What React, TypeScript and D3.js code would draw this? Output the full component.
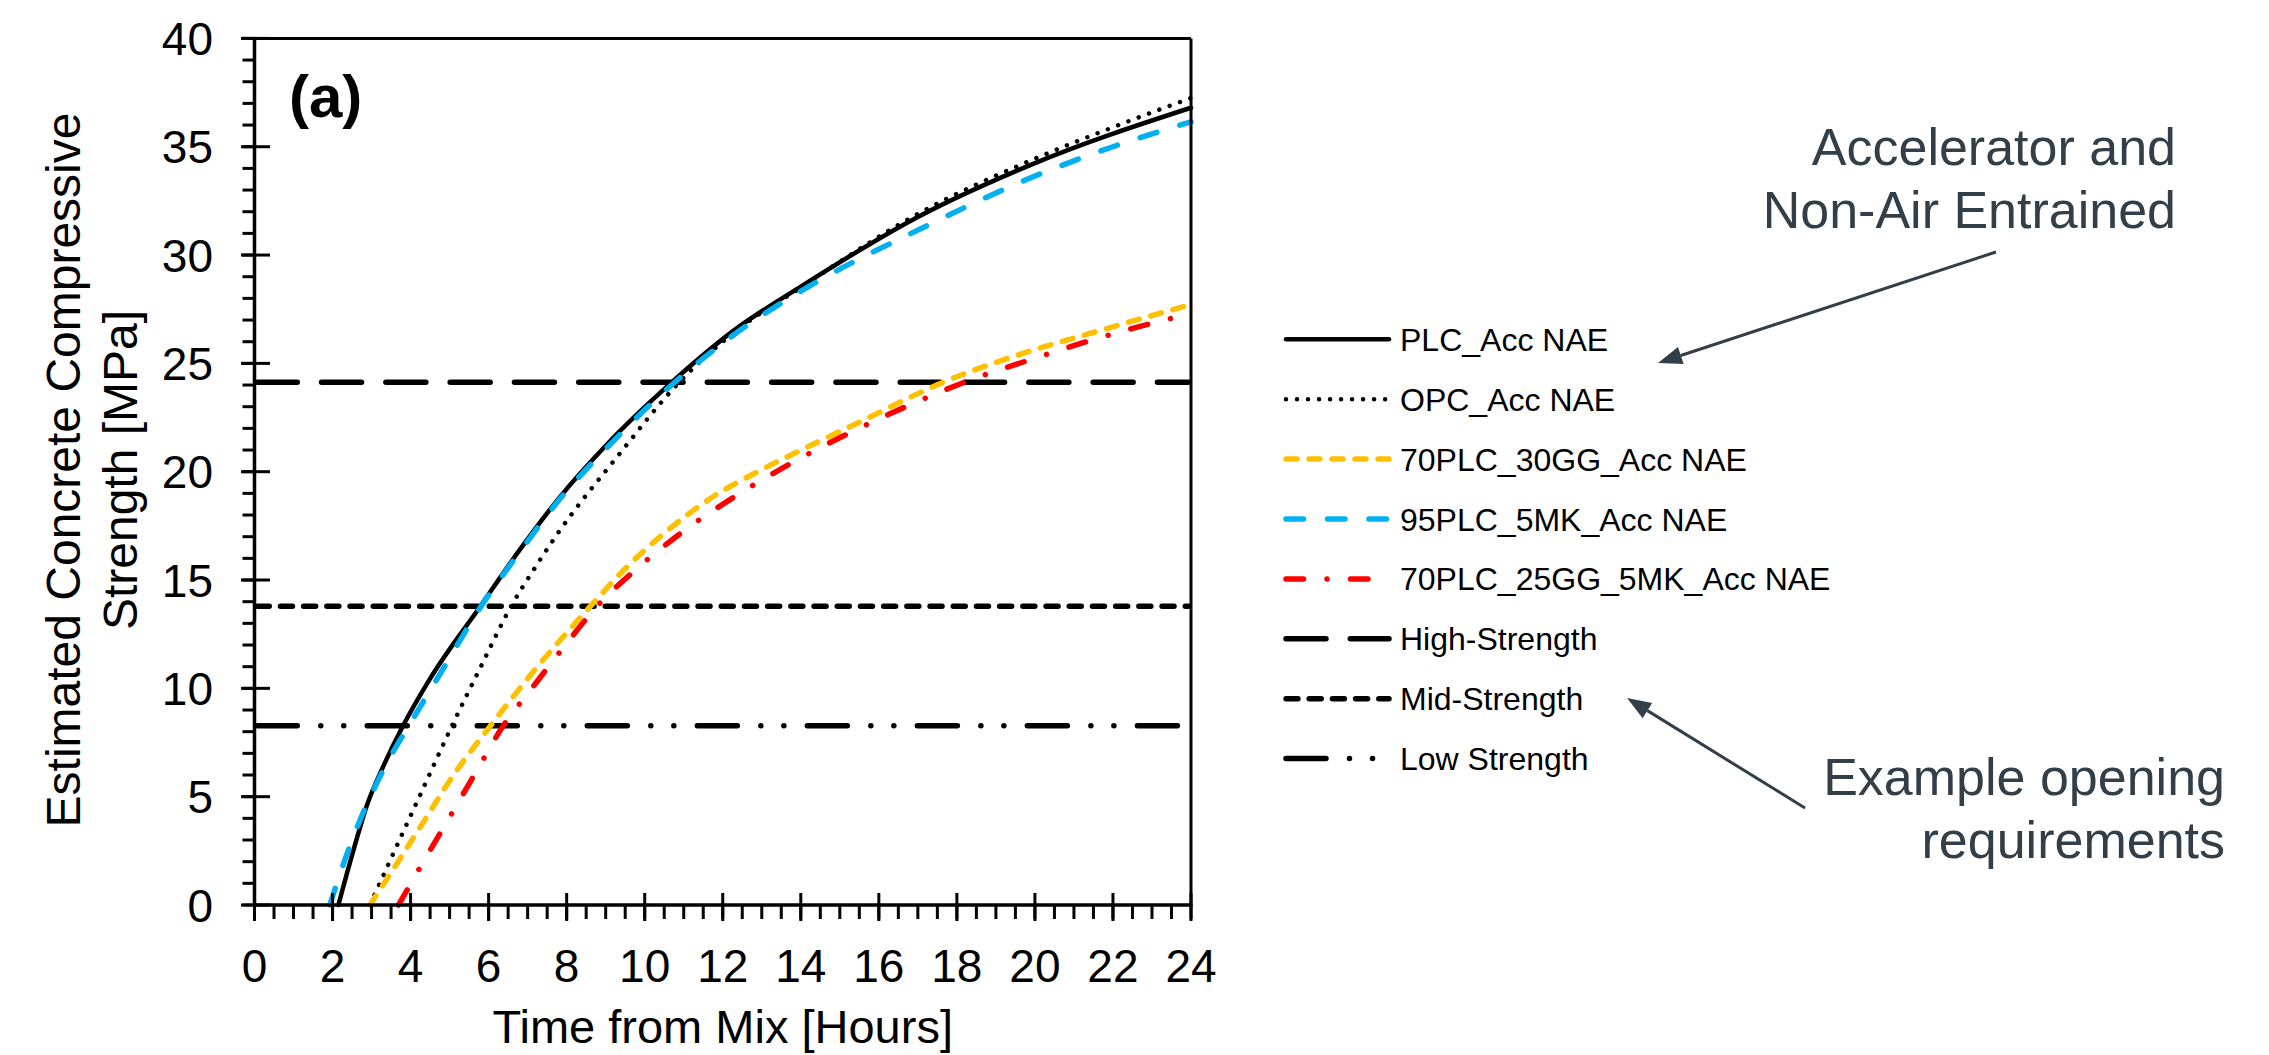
import React from 'react';
import * as d3 from 'd3';

// ---- data: [hours from mix, estimated strength MPa] ----
const plcAcc: [number, number][] = [
  [2.15, 0], [2.5, 2.3], [2.9, 4.7], [3.3, 6.4], [3.8, 8.25], [4.5, 10.45], [5.78, 13.77],
  [6.8, 16.4], [7.83, 18.84], [9.0, 21.2], [10.69, 24.12], [12.27, 26.5], [14.05, 28.6],
  [17.0, 31.76], [19.94, 34.2], [24, 36.8],
];
const opcAcc: [number, number][] = [
  [2.96, 0], [3.5, 2.15], [4.2, 4.9], [5.05, 8.23], [5.8, 11.0], [6.57, 13.77], [7.2, 15.6],
  [7.83, 17.3], [9.3, 20.7], [10.87, 24.1], [12.27, 26.4], [14.0, 28.5], [17.0, 31.9],
  [19.94, 34.4], [22.0, 35.9], [24, 37.25],
];
const plc70gg30: [number, number][] = [
  [2.96, 0], [3.5, 1.5], [4.25, 3.6], [5.1, 6.0], [6.03, 8.23], [7.0, 10.45], [8.6, 13.77],
  [9.54, 15.6], [10.56, 17.25], [11.67, 18.75], [12.95, 20.05], [14.24, 21.2], [15.52, 22.3],
  [16.88, 23.5], [17.59, 24.08], [19.55, 25.38], [21.41, 26.38], [23.47, 27.45], [24, 27.72],
];
const plc95mk5: [number, number][] = [
  [1.93, 0], [2.3, 2.0], [2.7, 3.9], [3.1, 5.5], [3.5, 6.9], [3.94, 8.23], [4.8, 10.8],
  [5.8, 13.77], [6.8, 16.3], [7.83, 18.75], [9.0, 21.05], [10.72, 24.05], [12.27, 26.3],
  [14.35, 28.7], [17.0, 31.15], [19.94, 33.6], [22.0, 35.0], [24, 36.15],
];
const plc70gg25mk5: [number, number][] = [
  [3.69, 0], [4.2, 1.6], [4.9, 3.75], [5.6, 5.9], [6.35, 8.2], [7.15, 10.1], [7.9, 11.85],
  [8.77, 13.77], [9.88, 15.65], [10.99, 17.25], [12.44, 19.0], [13.81, 20.45], [15.26, 21.8],
  [16.88, 23.15], [18.18, 24.12], [19.85, 25.15], [21.32, 26.0], [22.89, 26.8], [24, 27.3],
];

// opening requirement thresholds, MPa
const highStrength = 24.13;
const midStrength = 13.79;
const lowStrength = 8.27;

const xTickValues = d3.range(0, 25, 2);
const yTickValues = d3.range(0, 41, 5);
const xMinorValues = d3.range(0, 24.01, 0.5);
const yMinorValues = d3.range(0, 40.01, 1);

const legendLabels = [
  'PLC_Acc NAE',
  'OPC_Acc NAE',
  '70PLC_30GG_Acc NAE',
  '95PLC_5MK_Acc NAE',
  '70PLC_25GG_5MK_Acc NAE',
  'High-Strength',
  'Mid-Strength',
  'Low Strength',
];

// ---- styles ----
type LineStyle = { color: string; width: number; dash?: string };
const styles: Record<string, LineStyle> = {
  'PLC_Acc NAE': { color: '#000000', width: 4.5 },
  'OPC_Acc NAE': { color: '#000000', width: 4.5, dash: '0.01 11' },
  '70PLC_30GG_Acc NAE': { color: '#FFC000', width: 5.5, dash: '11 12' },
  '95PLC_5MK_Acc NAE': { color: '#00B0F0', width: 5.5, dash: '17.5 24' },
  '70PLC_25GG_5MK_Acc NAE': { color: '#FF0000', width: 5.5, dash: '17.5 23.5 0.01 23.5' },
  'High-Strength': { color: '#000000', width: 5.5, dash: '40 24.3' },
  'Mid-Strength': { color: '#000000', width: 5.5, dash: '12 11.2' },
  'Low Strength': { color: '#000000', width: 5.5, dash: '40 23.5 0.01 23 0.01 23.5' },
};

const FONT = "'Liberation Sans', Arial, Helvetica, sans-serif";
const NOTE = '#333F48';

const W = 2269;
const H = 1055;
const plotLeft = 254.5;
const plotRight = 1191;
const plotTop = 38.4;
const plotBottom = 905;

function Arrow({ x1, y1, x2, y2 }: { x1: number; y1: number; x2: number; y2: number }) {
  const ang = Math.atan2(y2 - y1, x2 - x1);
  const len = 24;
  const half = 9;
  const bx = x2 - len * Math.cos(ang);
  const by = y2 - len * Math.sin(ang);
  const px = -Math.sin(ang) * half;
  const py = Math.cos(ang) * half;
  return (
    <g>
      <line x1={x1} y1={y1} x2={bx} y2={by} stroke={NOTE} strokeWidth={3} />
      <polygon points={`${x2},${y2} ${bx + px},${by + py} ${bx - px},${by - py}`} fill={NOTE} />
    </g>
  );
}

export default function App() {
  const x = d3.scaleLinear().domain([0, 24]).range([plotLeft, plotRight]);
  const y = d3.scaleLinear().domain([0, 40]).range([plotBottom, plotTop]);
  const line = d3
    .line<[number, number]>()
    .x((d) => x(d[0]))
    .y((d) => y(d[1]))
    .curve(d3.curveMonotoneX);

  const series: { label: string; data: [number, number][] }[] = [
    { label: 'PLC_Acc NAE', data: plcAcc },
    { label: 'OPC_Acc NAE', data: opcAcc },
    { label: '70PLC_30GG_Acc NAE', data: plc70gg30 },
    { label: '70PLC_25GG_5MK_Acc NAE', data: plc70gg25mk5 },
    { label: '95PLC_5MK_Acc NAE', data: plc95mk5 },
  ];
  const thresholds = [
    { label: 'High-Strength', value: highStrength },
    { label: 'Mid-Strength', value: midStrength },
    { label: 'Low Strength', value: lowStrength },
  ];

  const legendX0 = 1286;
  const legendX1 = 1389;
  const legendY0 = 339.3;
  const legendStep = 59.9;

  return (
    <svg
      width={W}
      height={H}
      viewBox={`0 0 ${W} ${H}`}
      style={{ position: 'absolute', left: 0, top: 0, background: '#ffffff' }}
      fontFamily={FONT}
    >
      <rect x={0} y={0} width={W} height={H} fill="#ffffff" />

      {/* threshold lines */}
      {thresholds.map((t) => {
        const s = styles[t.label];
        return (
          <line
            key={t.label}
            x1={x(0) + s.width / 2}
            x2={x(24) - s.width / 2}
            y1={y(t.value)}
            y2={y(t.value)}
            stroke={s.color}
            strokeWidth={s.width}
            strokeDasharray={s.dash}
            strokeLinecap="round"
          />
        );
      })}

      {/* strength development curves */}
      {series.map((sr) => {
        const s = styles[sr.label];
        return (
          <path
            key={sr.label}
            d={line(sr.data) || ''}
            fill="none"
            stroke={s.color}
            strokeWidth={s.width}
            strokeDasharray={s.dash}
            strokeLinecap="round"
            strokeLinejoin="round"
          />
        );
      })}

      {/* frame */}
      <line x1={plotLeft} x2={plotRight} y1={plotTop} y2={plotTop} stroke="#000" strokeWidth={3} />
      <line x1={plotRight} x2={plotRight} y1={plotTop} y2={plotBottom} stroke="#000" strokeWidth={3} />
      <line x1={plotLeft} x2={plotRight + 1.5} y1={plotBottom} y2={plotBottom} stroke="#000" strokeWidth={3.5} />
      <line x1={plotLeft} x2={plotLeft} y1={plotTop - 1.5} y2={plotBottom + 1.5} stroke="#000" strokeWidth={3.5} />

      {/* y axis ticks */}
      {yMinorValues.map((v) => (
        <line key={`ym${v}`} x1={plotLeft - 12} x2={plotLeft} y1={y(v)} y2={y(v)} stroke="#000" strokeWidth={3} />
      ))}
      {yTickValues.map((v) => (
        <g key={`y${v}`}>
          <line x1={plotLeft - 13.5} x2={plotLeft + 15.5} y1={y(v)} y2={y(v)} stroke="#000" strokeWidth={3} />
          <text x={213} y={y(v) + 16.5} textAnchor="end" fontSize={46} fill="#000">
            {v}
          </text>
        </g>
      ))}

      {/* x axis ticks */}
      {xMinorValues.map((v) => (
        <line key={`xm${v}`} x1={x(v)} x2={x(v)} y1={plotBottom} y2={plotBottom + 14} stroke="#000" strokeWidth={3} />
      ))}
      {xTickValues.map((v) => (
        <g key={`x${v}`}>
          <line x1={x(v)} x2={x(v)} y1={plotBottom - 12} y2={plotBottom + 16} stroke="#000" strokeWidth={3} />
          <text x={x(v)} y={981.7} textAnchor="middle" fontSize={46} fill="#000">
            {v}
          </text>
        </g>
      ))}

      {/* axis titles */}
      <text x={(plotLeft + plotRight) / 2} y={1043} textAnchor="middle" fontSize={47} fill="#000">
        Time from Mix [Hours]
      </text>
      <text transform="translate(80,470) rotate(-90)" textAnchor="middle" fontSize={48} fill="#000">
        Estimated Concrete Compressive
      </text>
      <text transform="translate(137,470) rotate(-90)" textAnchor="middle" fontSize={48} fill="#000">
        Strength [MPa]
      </text>

      {/* panel tag */}
      <text x={289} y={117} fontSize={60} fontWeight="bold" fill="#000">
        (a)
      </text>

      {/* legend */}
      {legendLabels.map((label, i) => {
        const s = styles[label];
        const ly = legendY0 + i * legendStep;
        return (
          <g key={`lg${label}`}>
            <line
              x1={legendX0}
              x2={legendX1}
              y1={ly}
              y2={ly}
              stroke={s.color}
              strokeWidth={s.width}
              strokeDasharray={s.dash}
              strokeLinecap="round"
            />
            <text x={1400} y={ly + 11.5} fontSize={32} fill="#000">
              {label}
            </text>
          </g>
        );
      })}

      {/* notes */}
      <text x={2176} y={165} textAnchor="end" fontSize={52} fill={NOTE}>
        Accelerator and
      </text>
      <text x={2176} y={228} textAnchor="end" fontSize={52} fill={NOTE}>
        Non-Air Entrained
      </text>
      <Arrow x1={1996} y1={252} x2={1658} y2={363} />

      <text x={2225} y={795} textAnchor="end" fontSize={52} fill={NOTE}>
        Example opening
      </text>
      <text x={2225} y={858} textAnchor="end" fontSize={52} fill={NOTE}>
        requirements
      </text>
      <Arrow x1={1805} y1={808} x2={1627} y2={698} />
    </svg>
  );
}
